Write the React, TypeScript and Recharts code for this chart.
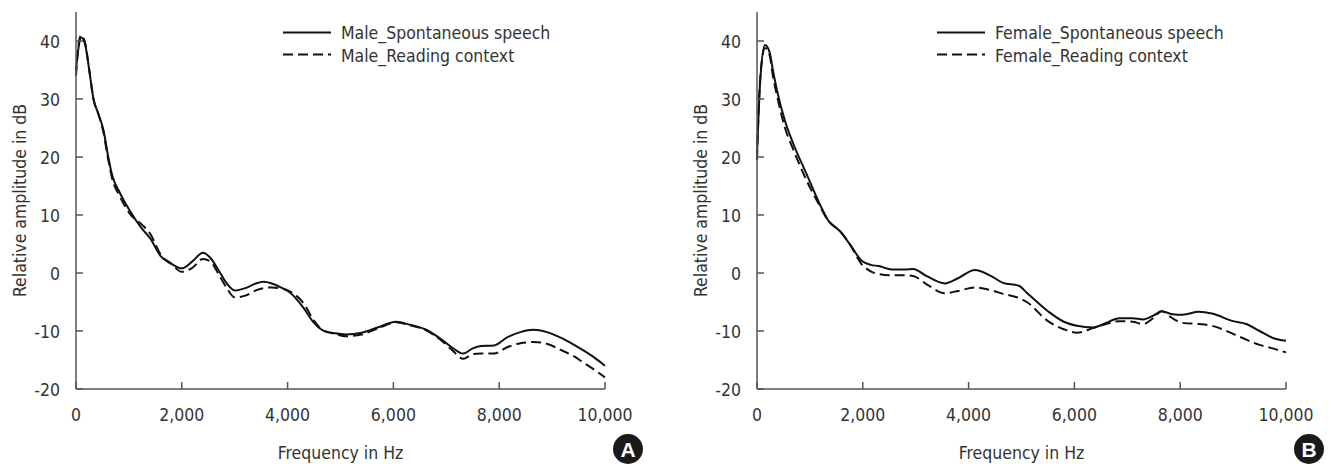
import React from 'react';
import { LineChart, Line, XAxis, YAxis } from 'recharts';

const maleFreq = [0, 50, 100, 170, 250, 330, 420, 520, 600, 680, 830, 1020, 1250, 1400, 1600, 1800, 2000, 2200, 2400, 2550, 2700, 2850, 3000, 3200, 3400, 3550, 3700, 3900, 4050, 4300, 4500, 4650, 4900, 5100, 5400, 5700, 6050, 6300, 6600, 6900, 7100, 7320, 7500, 7650, 7900, 8150, 8400, 8650, 8900, 9150, 9400, 9600, 9800, 10000];
const maleSpont = [35, 39, 40.6, 39.5, 35, 30, 27.5, 24.6, 20.5, 17, 13.8, 10.7, 7.6, 6.0, 2.9, 1.6, 0.8, 2.0, 3.5, 2.5, 0.4, -1.8, -3.0, -2.6, -1.8, -1.5, -1.8, -2.6, -3.4, -6, -8.6, -9.8, -10.4, -10.6, -10.3, -9.4, -8.4, -8.9, -9.7, -11.4, -12.8, -13.9, -13.0, -12.6, -12.5, -11.1, -10.2, -9.8, -10.2, -11.1, -12.3, -13.4, -14.6, -16];
const maleRead = [34, 39.5, 41, 39.8, 35, 30, 27.5, 24.2, 20, 16.4, 13.2, 10.2, 8.3, 6.8, 3.2, 1.6, 0.2, 0.9, 2.4, 1.9, -0.3, -2.6, -4.2, -3.9, -3.0, -2.6, -2.5, -2.7, -3.2, -5.2, -8.2, -9.8, -10.5, -10.9, -10.6, -9.6, -8.5, -9.0, -9.8, -11.6, -13.2, -14.8, -14.0, -13.9, -13.9, -12.8, -12.1, -11.9, -12.2, -13.2, -14.3, -15.5, -16.7, -18];

const femaleFreq = [0, 60, 150, 240, 300, 380, 530, 690, 940, 1160, 1350, 1570, 1760, 1980, 2150, 2300, 2550, 2800, 2950, 3200, 3550, 3800, 4120, 4400, 4650, 4950, 5100, 5500, 5800, 6050, 6350, 6600, 6850, 7100, 7300, 7500, 7650, 7850, 8050, 8350, 8600, 9000, 9250, 9500, 9750, 10000];
const femaleSpont = [20.5, 33, 39.3, 38, 35, 31.4, 26.2, 22.2, 17, 12.4, 9, 7.2, 4.9, 2.1, 1.4, 1.2, 0.6, 0.6, 0.7, -0.5, -1.8, -0.9, 0.5, -0.4, -1.7, -2.2, -3.4, -6.6, -8.4, -9.1, -9.4, -8.6, -7.8, -7.8, -8.0, -7.3, -6.6, -7.1, -7.2, -6.7, -7.0, -8.3, -8.8, -10.0, -11.2, -11.7];
const femaleRead = [19.5, 33.5, 38.8, 37.5, 34, 30.5, 25, 21.2, 15.9, 12, 9, 7.2, 4.9, 1.5, 0.3, -0.2, -0.4, -0.4, -0.5, -1.9, -3.5, -3.1, -2.5, -2.9, -3.6, -4.3, -5.0, -8.3, -9.7, -10.3, -9.5, -8.8, -8.3, -8.4, -8.8, -7.7, -6.6, -7.8, -8.6, -8.8, -9.1, -10.5, -11.5, -12.4, -13.0, -13.7];

const xTicks = [0, 2000, 4000, 6000, 8000, 10000];
const yTicks = [-20, -10, 0, 10, 20, 30, 40];

const FONT = "'Liberation Sans Narrow', 'DejaVu Sans Condensed', 'Roboto Condensed', Arial, sans-serif";
const FS = 17.5;
const TXT = '#333';
const AXIS = '#555';
const W = 650;
const H = 468;

const fmt = (v: number) => v.toLocaleString('en-US');

const XTick = (props: any) => {
  const { x, y, payload } = props;
  return (
    <g>
      <line x1={x} x2={x} y1={y} y2={y - 7} stroke={AXIS} strokeWidth={1.5} />
      <text x={x} y={y + 32} textAnchor="middle" fill={TXT} fontSize={FS} fontFamily={FONT}>
        {fmt(payload.value)}
      </text>
    </g>
  );
};

const YTick = (props: any) => {
  const { x, y, payload } = props;
  return (
    <g>
      <line x1={x} x2={x + 7} y1={y} y2={y} stroke={AXIS} strokeWidth={1.5} />
      <text x={x - 16} y={y + 6.5} textAnchor="end" fill={TXT} fontSize={FS} fontFamily={FONT}>
        {payload.value}
      </text>
    </g>
  );
};

type PanelProps = {
  left: number;
  freq: number[];
  spont: number[];
  read: number[];
  labels: string[];
  legendX: number;
  badge: string;
};

const Panel = ({ left, freq, spont, read, labels, legendX, badge }: PanelProps) => {
  const data = freq.map((f, i) => ({ f, s: spont[i], r: read[i] }));
  return (
    <div style={{ position: 'absolute', left, top: 0, width: W, height: H }}>
      <LineChart width={W} height={H} data={data} margin={{ top: 12, right: 45, left: 0, bottom: 0 }}>
        <XAxis
          dataKey="f"
          type="number"
          domain={[0, 10000]}
          ticks={xTicks}
          height={79}
          tickSize={0}
          tickMargin={0}
          tickLine={false}
          tick={<XTick />}
          axisLine={{ stroke: AXIS, strokeWidth: 1.5 }}
          label={{ value: 'Frequency in Hz', position: 'insideBottom', offset: 9, fill: TXT, fontSize: FS, fontFamily: FONT }}
        />
        <YAxis
          type="number"
          domain={[-20, 45]}
          ticks={yTicks}
          width={76}
          tickSize={0}
          tickMargin={0}
          tickLine={false}
          tick={<YTick />}
          axisLine={{ stroke: AXIS, strokeWidth: 1.5 }}
          label={{ value: 'Relative amplitude in dB', angle: -90, position: 'insideLeft', offset: 20, fill: TXT, fontSize: FS, fontFamily: FONT, style: { textAnchor: 'middle' } }}
        />
        <Line type="monotone" dataKey="s" stroke="#111" strokeWidth={2} dot={false} isAnimationActive={false} />
        <Line type="monotone" dataKey="r" stroke="#111" strokeWidth={2} strokeDasharray="10 5" dot={false} isAnimationActive={false} />
      </LineChart>
      <svg width={W} height={H} style={{ position: 'absolute', left: 0, top: 0, pointerEvents: 'none' }}>
        <line x1={legendX} x2={legendX + 48} y1={32.5} y2={32.5} stroke="#111" strokeWidth={2} />
        <text x={legendX + 58} y={38.5} fill={TXT} fontSize={FS} fontFamily={FONT}>{labels[0]}</text>
        <line x1={legendX} x2={legendX + 48} y1={54.5} y2={54.5} stroke="#111" strokeWidth={2} strokeDasharray="10 5" />
        <text x={legendX + 58} y={61.5} fill={TXT} fontSize={FS} fontFamily={FONT}>{labels[1]}</text>
        <circle cx={628} cy={449} r={15} fill="#1a1a1a" />
        <text x={628} y={456.5} textAnchor="middle" fill="#fff" fontSize={21} fontWeight="bold" fontFamily="'Liberation Sans', Arial, sans-serif">{badge}</text>
      </svg>
    </div>
  );
};

export default function App() {
  return (
    <div style={{ position: 'absolute', left: 0, top: 0, width: 1331, height: H, overflow: 'hidden', background: '#fff' }}>
      <Panel left={0} freq={maleFreq} spont={maleSpont} read={maleRead} labels={['Male_Spontaneous speech', 'Male_Reading context']} legendX={283} badge="A" />
      <Panel left={681} freq={femaleFreq} spont={femaleSpont} read={femaleRead} labels={['Female_Spontaneous speech', 'Female_Reading context']} legendX={256} badge="B" />
    </div>
  );
}
